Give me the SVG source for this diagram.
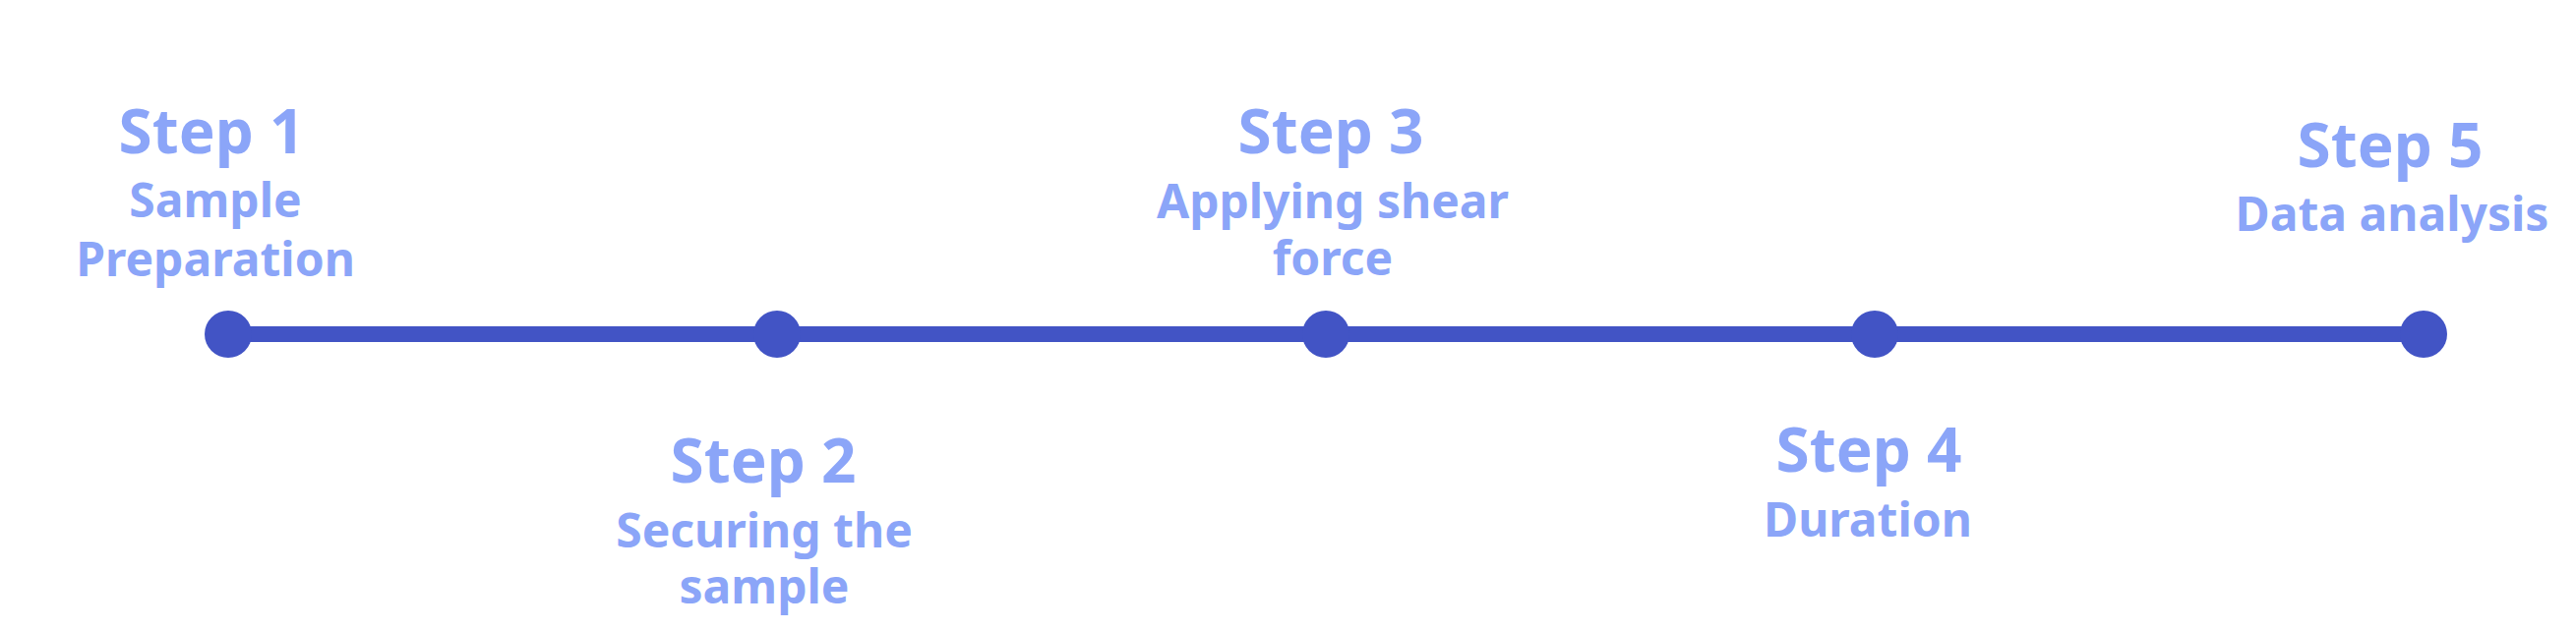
<svg xmlns="http://www.w3.org/2000/svg" width="2619" height="641" viewBox="0 0 2619 641">
<style>
.step{font-family:"Noto Sans","Open Sans","Liberation Sans",sans-serif;font-weight:700;font-size:62px;fill:#8BA5F8;text-anchor:middle}
.lbl{font-family:"Noto Sans","Open Sans","Liberation Sans",sans-serif;font-weight:700;font-size:48px;fill:#8BA5F8;text-anchor:middle}
.dot{fill:#4254C5}
</style>
<rect width="2619" height="641" fill="#FFFFFF"/>
<g id="connectors">
<line x1="232" y1="340" x2="2464" y2="340" stroke="#4254C5" stroke-width="16"/>
</g>
<g id="step1">
<circle class="dot" cx="232" cy="340" r="24"/>
<text class="step" x="215" y="156">Step 1</text>
<text class="lbl" x="219" y="221">Sample</text>
<text class="lbl" x="219" y="281">Preparation</text>
</g>
<g id="step2">
<circle class="dot" cx="790" cy="340" r="24"/>
<text class="step" x="776" y="491">Step 2</text>
<text class="lbl" x="777" y="557">Securing the</text>
<text class="lbl" x="777" y="614">sample</text>
</g>
<g id="step3">
<circle class="dot" cx="1348" cy="340" r="24"/>
<text class="step" x="1353" y="156">Step 3</text>
<text class="lbl" x="1355" y="222">Applying shear</text>
<text class="lbl" x="1355" y="280">force</text>
</g>
<g id="step4">
<circle class="dot" cx="1906" cy="340" r="24"/>
<text class="step" x="1900" y="480">Step 4</text>
<text class="lbl" x="1899" y="546">Duration</text>
</g>
<g id="step5">
<circle class="dot" cx="2464" cy="340" r="24"/>
<text class="step" x="2430" y="170">Step 5</text>
<text class="lbl" x="2432" y="235">Data analysis</text>
</g>
</svg>
